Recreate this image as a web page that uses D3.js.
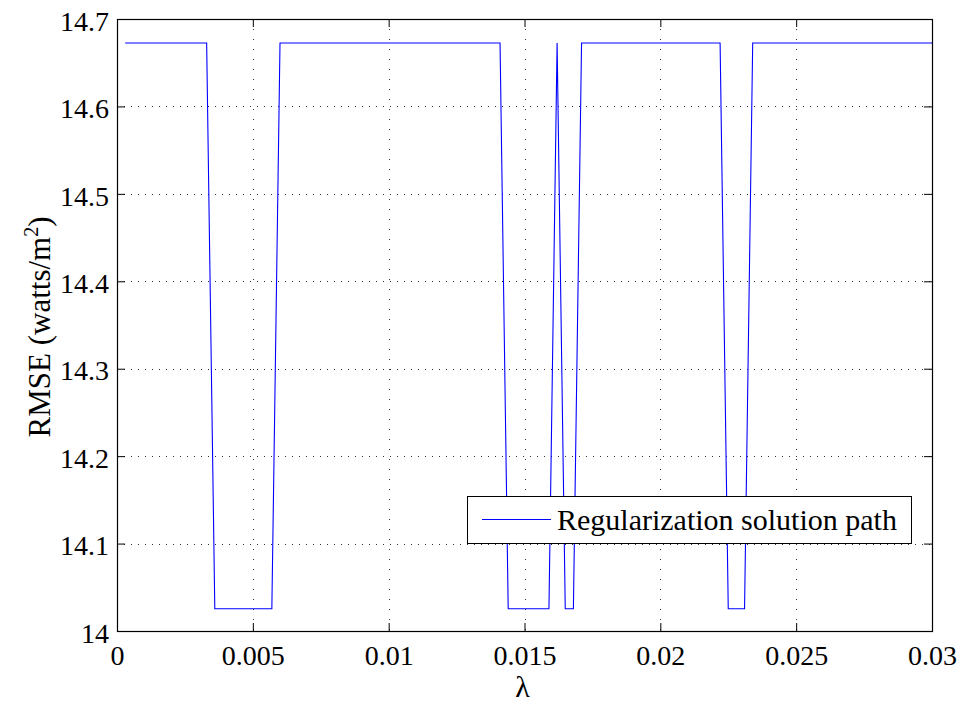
<!DOCTYPE html>
<html>
<head>
<meta charset="utf-8">
<script src="https://cdn.jsdelivr.net/npm/d3@7"></script>
<style>
  html, body { margin: 0; padding: 0; background: #fff; }
  svg text { font-family: "Liberation Serif", Tinos, "DejaVu Serif", serif; fill: #000; }
</style>
</head>
<body>
<svg id="chart" width="962" height="709"></svg>
<script>
// Regularization parameter grid (λ)
const lambdas = [
  0.0003, 0.0006, 0.0009, 0.0012, 0.0015, 0.0018, 0.0021, 0.0024, 0.0027, 0.0030,
  0.0033, 0.0036, 0.0039, 0.0042, 0.0045, 0.0048, 0.0051, 0.0054, 0.0057, 0.0060,
  0.0063, 0.0066, 0.0069, 0.0072, 0.0075, 0.0078, 0.0081, 0.0084, 0.0087, 0.0090,
  0.0093, 0.0096, 0.0099, 0.0102, 0.0105, 0.0108, 0.0111, 0.0114, 0.0117, 0.0120,
  0.0123, 0.0126, 0.0129, 0.0132, 0.0135, 0.0138, 0.0141, 0.0144, 0.0147, 0.0150,
  0.0153, 0.0156, 0.0159, 0.0162, 0.0165, 0.0168, 0.0171, 0.0174, 0.0177, 0.0180,
  0.0183, 0.0186, 0.0189, 0.0192, 0.0195, 0.0198, 0.0201, 0.0204, 0.0207, 0.0210,
  0.0213, 0.0216, 0.0219, 0.0222, 0.0225, 0.0228, 0.0231, 0.0234, 0.0237, 0.0240,
  0.0243, 0.0246, 0.0249, 0.0252, 0.0255, 0.0258, 0.0261, 0.0264, 0.0267, 0.0270,
  0.0273, 0.0276, 0.0279, 0.0282, 0.0285, 0.0288, 0.0291, 0.0294, 0.0297, 0.0300
];

// RMSE (watts/m^2) along the regularization solution path
const rmse = [
  14.6726, 14.6726, 14.6726, 14.6726, 14.6726, 14.6726, 14.6726, 14.6726, 14.6726, 14.6726,
  14.6726, 14.0255, 14.0255, 14.0255, 14.0255, 14.0255, 14.0255, 14.0255, 14.0255, 14.6726,
  14.6726, 14.6726, 14.6726, 14.6726, 14.6726, 14.6726, 14.6726, 14.6726, 14.6726, 14.6726,
  14.6726, 14.6726, 14.6726, 14.6726, 14.6726, 14.6726, 14.6726, 14.6726, 14.6726, 14.6726,
  14.6726, 14.6726, 14.6726, 14.6726, 14.6726, 14.6726, 14.6726, 14.0255, 14.0255, 14.0255,
  14.0255, 14.0255, 14.0255, 14.6726, 14.0255, 14.0255, 14.6726, 14.6726, 14.6726, 14.6726,
  14.6726, 14.6726, 14.6726, 14.6726, 14.6726, 14.6726, 14.6726, 14.6726, 14.6726, 14.6726,
  14.6726, 14.6726, 14.6726, 14.6726, 14.0255, 14.0255, 14.0255, 14.6726, 14.6726, 14.6726,
  14.6726, 14.6726, 14.6726, 14.6726, 14.6726, 14.6726, 14.6726, 14.6726, 14.6726, 14.6726,
  14.6726, 14.6726, 14.6726, 14.6726, 14.6726, 14.6726, 14.6726, 14.6726, 14.6726, 14.6726
];

const xTicks = [0, 0.005, 0.01, 0.015, 0.02, 0.025, 0.03];
const xTickLabels = ["0", "0.005", "0.01", "0.015", "0.02", "0.025", "0.03"];
const yTicks = [14, 14.1, 14.2, 14.3, 14.4, 14.5, 14.6, 14.7];
const yTickLabels = ["14", "14.1", "14.2", "14.3", "14.4", "14.5", "14.6", "14.7"];
const seriesName = "Regularization solution path";

const plot = { left: 117, top: 19, right: 932, bottom: 631 };
const serif = "'Liberation Serif', Tinos, 'DejaVu Serif', serif";
const svg = d3.select("#chart").style("font-family", serif);

const x = d3.scaleLinear().domain([0, 0.03]).range([plot.left, plot.right]);
const y = d3.scaleLinear().domain([14, 14.7]).range([plot.bottom, plot.top]);

const tickFont = 28;
const labelFont = 30;

// Dotted grid
const grid = svg.append("g").attr("class", "grid");
grid.selectAll("line.gx")
  .data(xTicks.slice(1, -1))
  .join("line")
  .attr("x1", d => Math.round(x(d)) + 0.5).attr("x2", d => Math.round(x(d)) + 0.5)
  .attr("y1", plot.top).attr("y2", plot.bottom)
  .attr("stroke", "#333").attr("stroke-width", 1).attr("stroke-dasharray", "1,9");
grid.selectAll("line.gy")
  .data(yTicks.slice(1, -1))
  .join("line")
  .attr("y1", d => Math.round(y(d)) + 0.5).attr("y2", d => Math.round(y(d)) + 0.5)
  .attr("x1", plot.left).attr("x2", plot.right)
  .attr("stroke", "#333").attr("stroke-width", 1).attr("stroke-dasharray", "1,6");

// Data line
const line = d3.line()
  .x((d, i) => x(lambdas[i]))
  .y(d => y(d));
svg.append("path")
  .datum(rmse)
  .attr("d", line)
  .attr("fill", "none")
  .attr("stroke", "#0000ff")
  .attr("stroke-width", 1.1);

// Axes with inward ticks on all four sides
const tickLen = 8;
const bottomAxis = d3.axisBottom(x).tickValues(xTicks).tickSize(-tickLen)
  .tickFormat((d, i) => xTickLabels[i]);
const topAxis = d3.axisTop(x).tickValues(xTicks).tickSize(-tickLen).tickFormat("");
const leftAxis = d3.axisLeft(y).tickValues(yTicks).tickSize(-tickLen).tickPadding(8)
  .tickFormat((d, i) => yTickLabels[i]);
const rightAxis = d3.axisRight(y).tickValues(yTicks).tickSize(-tickLen).tickFormat("");

function styleAxis(g) {
  g.attr("font-family", serif).attr("font-size", tickFont);
  g.select(".domain").remove();
  g.selectAll("line").attr("stroke", "#000").attr("stroke-width", 1);
  g.selectAll("text").attr("font-size", tickFont).attr("font-family", serif).attr("fill", "#000");
}

svg.append("g").attr("transform", `translate(0,${plot.bottom})`).call(bottomAxis).call(styleAxis)
  .selectAll("text").attr("y", 34).attr("dy", 0);
svg.append("g").attr("transform", `translate(0,${plot.top})`).call(topAxis).call(styleAxis);
svg.append("g").attr("transform", `translate(${plot.left},0)`).call(leftAxis).call(styleAxis)
  .selectAll("text").attr("dy", "0.4em");
svg.append("g").attr("transform", `translate(${plot.right},0)`).call(rightAxis).call(styleAxis);

// Frame
svg.append("rect")
  .attr("x", plot.left + 0.5).attr("y", plot.top + 0.5)
  .attr("width", plot.right - plot.left).attr("height", plot.bottom - plot.top)
  .attr("fill", "none").attr("stroke", "#000").attr("stroke-width", 1.2);

// Axis titles
svg.append("text")
  .attr("x", (plot.left + plot.right) / 2 - 2)
  .attr("y", 697)
  .attr("text-anchor", "middle")
  .attr("font-family", serif)
  .attr("font-size", labelFont)
  .text("λ");

const yTitle = svg.append("text")
  .attr("transform", `translate(50,327) rotate(-90)`)
  .attr("text-anchor", "middle")
  .attr("font-family", serif)
  .attr("font-size", 31);
yTitle.append("tspan").text("RMSE (watts/m");
yTitle.append("tspan").attr("font-size", 20).attr("dy", -12).text("2");
yTitle.append("tspan").attr("dy", 12).text(")");

// Legend
const legend = svg.append("g").attr("class", "legend");
legend.append("rect")
  .attr("x", 467.5).attr("y", 496.5).attr("width", 444).attr("height", 47)
  .attr("fill", "#fff").attr("stroke", "#000").attr("stroke-width", 1);
legend.append("line")
  .attr("x1", 482).attr("x2", 551).attr("y1", 519.5).attr("y2", 519.5)
  .attr("stroke", "#0000ff").attr("stroke-width", 1.1);
legend.append("text")
  .attr("x", 557).attr("y", 530)
  .attr("font-family", serif)
  .attr("font-size", labelFont)
  .text(seriesName);
</script>
</body>
</html>
